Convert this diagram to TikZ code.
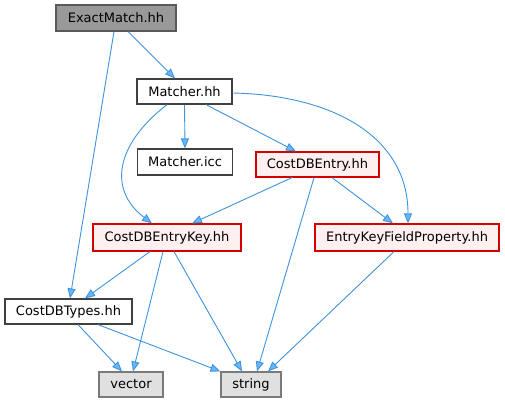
\documentclass[tikz,border=0pt]{standalone}
\usepackage{fontspec}
\setmainfont{DejaVu Sans}
\usetikzlibrary{arrows.meta}
\definecolor{edgeblue}{HTML}{3F92DC}
\definecolor{tipblue}{HTML}{63B8FF}
\definecolor{redfill}{HTML}{FFF0F0}
\definecolor{redline}{HTML}{D40000}
\definecolor{leaffill}{HTML}{E0E0E0}
\definecolor{leafline}{HTML}{7A7A7A}
\tikzset{
  file/.style={draw=black!75, fill=white, line width=1.2pt, inner sep=0pt,
    font=\fontsize{13}{15}\selectfont, text=black},
  current/.style={file, fill=black!40, draw=black!65},
  focus/.style={file, fill=redfill, draw=redline},
  leaf/.style={file, fill=leaffill, draw=leafline},
  dep/.style={edgeblue, line width=0.9pt,
    -{Triangle[length=10pt,width=8pt,fill=tipblue]}},
}
\begin{document}
\begin{tikzpicture}[x=1pt,y=-1pt]
\useasboundingbox (0,0) rectangle (505,403);

\node[current, minimum width=120, minimum height=26] (exact) at (116,18) {ExactMatch.hh};
\node[file, minimum width=95, minimum height=25] (matcher) at (184.5,91.5) {Matcher.hh};
\node[file, minimum width=95, minimum height=26] (icc) at (185,162) {Matcher.icc};
\node[focus, minimum width=123, minimum height=25] (entry) at (317.5,164.5) {CostDBEntry.hh};
\node[focus, minimum width=148, minimum height=27] (key) at (167,237.5) {CostDBEntryKey.hh};
\node[focus, minimum width=184, minimum height=27] (field) at (407,237.5) {EntryKeyFieldProperty.hh};
\node[file, minimum width=127, minimum height=25] (types) at (68.5,311.5) {CostDBTypes.hh};
\node[leaf, minimum width=64, minimum height=25] (vector) at (131,384.5) {vector};
\node[leaf, minimum width=60, minimum height=25] (string) at (251,384.5) {string};

% edges from the top file
\draw[dep] ([xshift=12]exact.south) -- ([xshift=-9.5]matcher.north);
\draw[dep] ([xshift=-2]exact.south) -- ([xshift=1.5]types.north);

% edges from Matcher.hh
\draw[dep] (matcher.south) -- (icc.north);
\draw[dep] ([xshift=21.5]matcher.south) -- ([xshift=-21.5]entry.north);
\draw[dep] ([xshift=-17.5]matcher.south) .. controls (115,145) and (108,190) .. ([xshift=-15]key.north);
\draw[dep] ([yshift=-1.5]matcher.east) .. controls (330,95) and (408,135) .. ([xshift=1]field.north);

% edges from CostDBEntry.hh
\draw[dep] ([xshift=-25.5]entry.south) -- ([xshift=25]key.north);
\draw[dep] ([xshift=14.5]entry.south) -- ([xshift=-14]field.north);
\draw[dep] ([xshift=-3.5]entry.south) -- ([xshift=6]string.north);

% edges from CostDBEntryKey.hh
\draw[dep] ([xshift=-17]key.south) -- ([xshift=16.5]types.north);
\draw[dep] ([xshift=-4]key.south) -- ([xshift=2]vector.north);
\draw[dep] ([xshift=7]key.south) -- ([xshift=-9]string.north);

% remaining edges
\draw[dep] ([xshift=9.5]types.south) -- ([xshift=-9]vector.north);
\draw[dep] ([xshift=29.5]types.south) -- (string.north west);
\draw[dep] ([xshift=-13]field.south) -- ([xshift=17]string.north);
\end{tikzpicture}
\end{document}
